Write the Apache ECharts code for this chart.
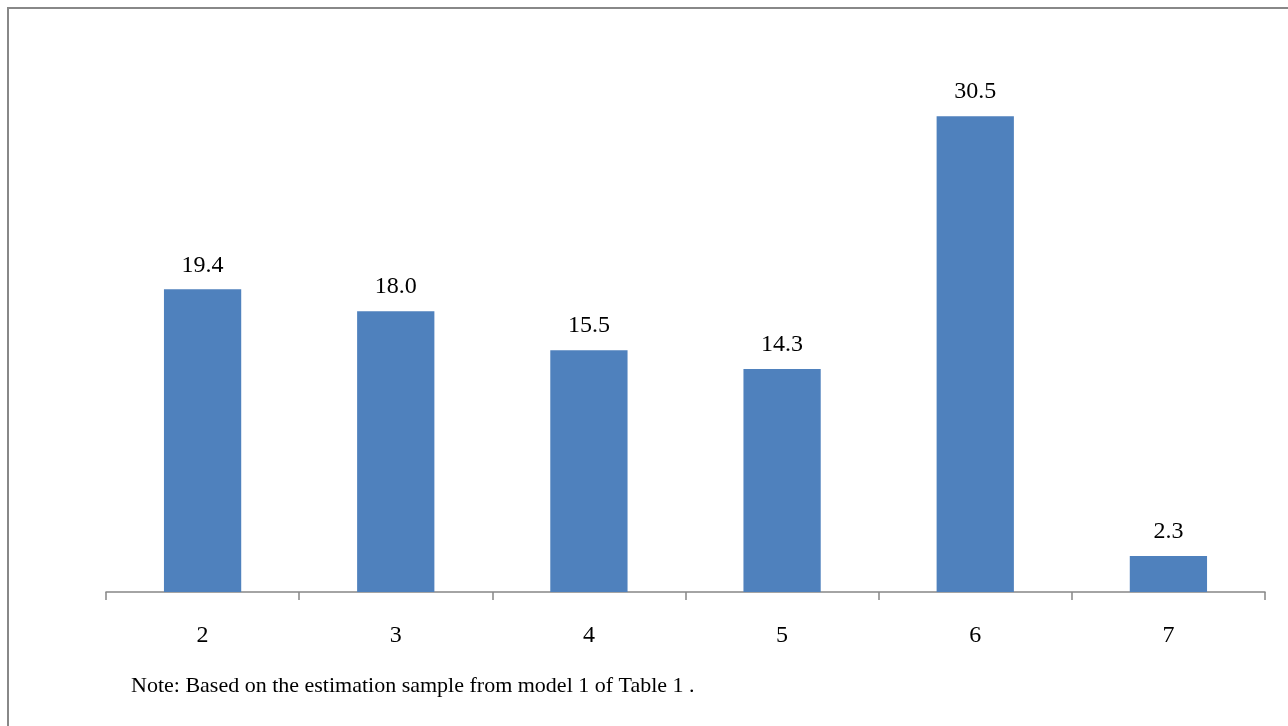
<!DOCTYPE html>
<html><head><meta charset="utf-8">
<script src="https://cdn.jsdelivr.net/npm/echarts@6/dist/echarts.min.js"></script>
<style>html,body{margin:0;padding:0;background:#fff;}#c{width:1288px;height:726px;}</style>
</head><body><div id="c"></div>
<script>
const categories = ['2','3','4','5','6','7'];
const values = [19.4, 18.0, 15.5, 14.3, 30.5, 2.3];
const noteText = 'Note: Based on the estimation sample from model 1 of Table 1 .';
const chart = echarts.init(document.getElementById('c'));
chart.setOption({
  animation: false,
  backgroundColor: '#fff',
  graphic: [
    { type: 'polyline', shape: { points: [[8, 730], [8, 8], [1292, 8]] }, style: { stroke: '#888', lineWidth: 2, fill: null } },
    { type: 'text', x: 131, y: 686, style: { text: noteText, font: '22px "Liberation Serif"', fill: '#000', verticalAlign: 'middle' } }
  ],
  grid: { left: 106, right: 23, top: 46, bottom: 134, containLabel: false },
  xAxis: {
    type: 'category', data: categories,
    axisLine: { lineStyle: { color: '#868686', width: 1.5 } },
    axisTick: { show: true, length: 8, lineStyle: { color: '#868686', width: 1.5 } },
    axisLabel: { fontFamily: 'Liberation Serif', fontSize: 24, color: '#000', margin: 32 }
  },
  yAxis: { type: 'value', min: 0, max: 35, show: false, splitLine: { show: false } },
  series: [{
    type: 'bar', data: values, barWidth: '40%',
    itemStyle: { color: '#4F81BD' },
    label: { show: true, position: 'top', distance: 12, formatter: p => p.value.toFixed(1), fontFamily: 'Liberation Serif', fontSize: 24, color: '#000' }
  }]
});
</script></body></html>
